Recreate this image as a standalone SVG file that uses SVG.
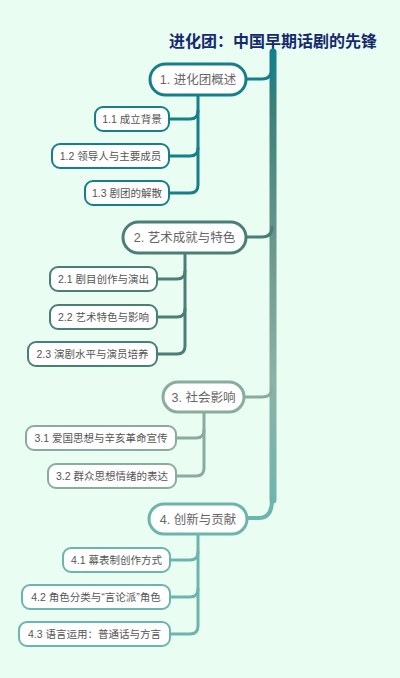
<svg xmlns="http://www.w3.org/2000/svg" width="400" height="678" viewBox="0 0 400 678">
<defs>
<linearGradient id="trunk" x1="0" y1="52" x2="0" y2="520" gradientUnits="userSpaceOnUse">
<stop offset="0" stop-color="#0f808a"/>
<stop offset="0.12" stop-color="#3d8078"/>
<stop offset="0.45" stop-color="#6f9b8e"/>
<stop offset="0.7" stop-color="#8cb2a6"/>
<stop offset="1" stop-color="#6db5ad"/>
</linearGradient>
</defs>
<style>
.main rect{fill:#fff;stroke-width:3}
.sub rect{fill:#fff;stroke-width:2}
.main text{font-family:"Liberation Sans","Noto Sans CJK SC",sans-serif;font-size:12.5px;fill:#666;text-anchor:middle}
.sub text{font-family:"Liberation Sans","Noto Sans CJK SC",sans-serif;font-size:10.5px;fill:#555;text-anchor:middle}
.c{fill:none;stroke-linecap:round}
.g1{stroke:#177f88}
.g2{stroke:#4a7f76}
.g3{stroke:#8aac9f}
.g4{stroke:#6cb5ac}
</style>
<rect width="400" height="678" fill="#e9fdf3"/>
<text x="273" y="47" font-family="'Noto Sans CJK SC',sans-serif" font-size="16" font-weight="bold" fill="#15296e" text-anchor="middle">进化团：中国早期话剧的先锋</text>
<g id="connectors">
<path class="c" d="M273,52 L273,500" stroke="url(#trunk)" stroke-width="7" stroke-linecap="butt"/>
<path class="c g1" stroke-width="3" d="M246,79 L262,79 Q272,79 272,68"/>
<path class="c g2" stroke-width="3" d="M246,237 L262,237 Q272,237 272,227"/>
<path class="c g3" stroke-width="3" d="M244,397 L262,397 Q272,397 272,388"/>
<path class="c g4" stroke-width="4" d="M247,518 L259,518 Q272,518 272,500"/>
<path class="c g1" stroke-width="3" d="M198,95 L198,185 Q198,193 190,193 L169,193"/>
<path class="c g1" stroke-width="3" d="M169,119 L190,119 Q198,119 198,111"/>
<path class="c g1" stroke-width="3" d="M169,156 L190,156 Q198,156 198,148"/>
<path class="c g2" stroke-width="3" d="M185,253 L185,346 Q185,354 177,354 L157,354"/>
<path class="c g2" stroke-width="3" d="M157,279 L177,279 Q185,279 185,271"/>
<path class="c g2" stroke-width="3" d="M157,317 L177,317 Q185,317 185,309"/>
<path class="c g3" stroke-width="3" d="M204,412 L204,468 Q204,476 196,476 L176,476"/>
<path class="c g3" stroke-width="3" d="M176,438 L196,438 Q204,438 204,430"/>
<path class="c g4" stroke-width="3" d="M198,534 L198,626 Q198,634 190,634 L170,634"/>
<path class="c g4" stroke-width="3" d="M170,560 L190,560 Q198,560 198,552"/>
<path class="c g4" stroke-width="3" d="M170,597 L190,597 Q198,597 198,589"/>
</g>
<g id="n1" class="main"><rect class="g1" x="150" y="64" width="96" height="31" rx="15.5"/><text x="198" y="84">1. 进化团概述</text></g>
<g id="n11" class="sub"><rect class="g1" x="95" y="107" width="74" height="24" rx="8"/><text x="132" y="123">1.1 成立背景</text></g>
<g id="n12" class="sub"><rect class="g1" x="52" y="144" width="117" height="24" rx="8"/><text x="110.5" y="160">1.2 领导人与主要成员</text></g>
<g id="n13" class="sub"><rect class="g1" x="85" y="181" width="84" height="24" rx="8"/><text x="127" y="197">1.3 剧团的解散</text></g>
<g id="n2" class="main"><rect class="g2" x="123" y="222" width="123" height="31" rx="15.5"/><text x="184.5" y="242">2. 艺术成就与特色</text></g>
<g id="n21" class="sub"><rect class="g2" x="50" y="267" width="107" height="24" rx="8"/><text x="103.5" y="283">2.1 剧目创作与演出</text></g>
<g id="n22" class="sub"><rect class="g2" x="50" y="305" width="107" height="24" rx="8"/><text x="103.5" y="321">2.2 艺术特色与影响</text></g>
<g id="n23" class="sub"><rect class="g2" x="28" y="342" width="129" height="24" rx="8"/><text x="92.5" y="358">2.3 演剧水平与演员培养</text></g>
<g id="n3" class="main"><rect class="g3" x="163" y="382" width="81" height="30" rx="15"/><text x="203.5" y="401.5">3. 社会影响</text></g>
<g id="n31" class="sub"><rect class="g3" x="26" y="426" width="150" height="24" rx="8"/><text x="101" y="442">3.1 爱国思想与辛亥革命宣传</text></g>
<g id="n32" class="sub"><rect class="g3" x="48" y="464" width="128" height="24" rx="8"/><text x="112" y="480">3.2 群众思想情绪的表达</text></g>
<g id="n4" class="main"><rect class="g4" x="149" y="504" width="98" height="30" rx="15"/><text x="198" y="523.5">4. 创新与贡献</text></g>
<g id="n41" class="sub"><rect class="g4" x="63" y="548" width="107" height="24" rx="8"/><text x="116.5" y="564">4.1 幕表制创作方式</text></g>
<g id="n42" class="sub"><rect class="g4" x="22" y="585" width="148" height="24" rx="8"/><text x="96" y="601">4.2 角色分类与“言论派”角色</text></g>
<g id="n43" class="sub"><rect class="g4" x="19" y="622" width="151" height="24" rx="8"/><text x="94.5" y="638">4.3 语言运用：普通话与方言</text></g>
</svg>
